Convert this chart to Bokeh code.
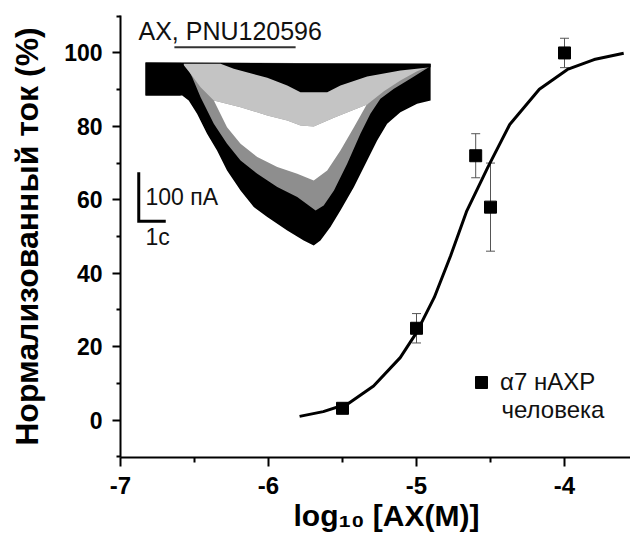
import math
from bokeh.plotting import figure
from bokeh.models import (Range1d, FixedTicker, Whisker, TeeHead, ColumnDataSource,
                          Label, Legend, LegendItem, Title)
from bokeh.core.properties import value
from bokeh.embed import file_html
from bokeh.resources import INLINE

# ---------------- data ----------------
conc_log = [-5.5, -5.0, -4.6, -4.5, -4.0]
current_pct = [3.2, 25.0, 72.0, 58.0, 100.0]
current_err = [1.0, 4.0, 6.0, 12.0, 4.0]

fit_x = [-5.79, -5.63, -5.46, -5.29, -5.11, -5.00, -4.88, -4.77, -4.66, -4.52,
         -4.37, -4.17, -3.98, -3.80, -3.60]
fit_y = [1.0, 2.3, 4.5, 9.3, 17.0, 23.8, 33.4, 44.7, 57.0, 68.7,
         80.5, 90.1, 95.5, 98.2, 99.9]

x_ticks = [-7, -6, -5, -4]
x_minor = [-6.5, -5.5, -4.5]
y_ticks = [0, 20, 40, 60, 80, 100]
y_minor = [-10, 10, 30, 50, 70, 90, 110]

legend_line1 = "α7 нАХР"
legend_line2 = "человека"
x_title = "log₁₀ [АХ(М)]"
y_title = "Нормализованный ток (%)"

# inset current traces: envelopes, time (s) / current (pA)
trace_top_t = [0.0, 10.56]
trace_top_i = [0.0, -2.7]

black_big_t = [0.0, 1.36, 1.60, 1.91, 2.28, 2.65, 3.02, 3.52, 4.01, 4.51, 5.25, 5.86,
               6.23, 6.48, 6.85, 7.22, 7.72, 8.21, 8.58, 8.95, 9.44, 10.06, 10.56]
black_big_i = [-67.3, -67.3, -77.5, -104.7, -145.5, -179.5, -220.3, -261.1, -295.1,
               -315.5, -342.7, -363.1, -373.3, -363.1, -335.9, -301.9, -254.3, -199.9,
               -159.1, -125.1, -101.3, -84.3, -77.5]

gray_start_t = 1.40
gray_t = [1.48, 1.73, 2.04, 2.53, 3.02, 3.52, 4.14, 4.88, 5.62, 6.30, 6.60, 6.98,
          7.47, 7.96, 8.33, 8.70, 9.20, 9.81, 10.49]
gray_i = [-2.7, -29.9, -70.7, -125.1, -165.9, -199.9, -227.1, -254.3, -274.7, -301.9,
          -291.7, -261.1, -206.7, -145.5, -104.7, -74.1, -53.7, -33.3, -9.5]

light_start_t = 1.30
light_t = [1.36, 1.67, 2.04, 2.53, 3.52, 4.51, 5.25, 5.74, 6.23, 6.98, 7.72, 8.21,
           8.83, 9.44, 10.06, 10.49]
light_i = [-1.4, -23.1, -50.3, -77.5, -91.1, -108.1, -118.3, -128.5, -130.6, -112.9,
           -96.6, -85.7, -58.5, -36.7, -17.7, -8.2]

white_t = [2.53, 3.02, 3.52, 4.14, 4.88, 5.62, 6.23, 6.73, 7.22, 7.72, 8.21]
white_i = [-77.5, -131.9, -165.9, -193.1, -213.5, -227.1, -240.7, -220.3, -179.5,
           -131.9, -84.3]

black_small_t = [0.0, 1.30, 1.42, 2.78, 3.27, 4.51, 5.25, 5.74, 6.73, 7.22, 8.21,
                 9.44, 10.56]
black_small_i = [-67.3, -67.3, -2.7, -2.7, -12.9, -31.3, -46.9, -60.5, -60.5, -46.9,
                 -28.6, -16.3, -9.5]

app_on, app_off = 1.07, 5.56          # agonist application bar (s)
app_label = "АХ, PNU120596"
scale_pA = 100
scale_s = 1
scale_pA_label = "100 пА"
scale_s_label = "1с"

# ---------------- layout ----------------
FONT = "Liberation Sans"
W, H = 630, 538
ML, MT, MB = 120, 15, 81
frame_w = W - ML
frame_h = H - MT - MB

p = figure(width=W, height=H, x_range=Range1d(-7, -7 + frame_w / 148.0),
           y_range=Range1d(-10.2, 110.2),
           output_backend="svg", toolbar_location=None,
           min_border_left=ML, min_border_right=0, min_border_top=MT, min_border_bottom=MB)
p.outline_line_color = None
p.xgrid.visible = False
p.ygrid.visible = False
p.background_fill_color = "white"
p.border_fill_color = "white"

# inset coordinate system (px per unit, origin in frame pixels)
px_s = 27.0
px_pA = 0.49
ox = 25.0        # frame px from left for t=0
oy = 47.0        # frame px from top for I=0
p.extra_x_ranges["t"] = Range1d(-ox / px_s, (frame_w - ox) / px_s)
p.extra_y_ranges["i"] = Range1d(-(frame_h - oy) / px_pA, oy / px_pA)
txt_lift = 7.0 / px_pA   # baseline correction for inset texts


def band(ut, ui, lt, li):
    return list(ut) + list(lt[::-1]), list(ui) + list(li[::-1])


kw = dict(x_range_name="t", y_range_name="i", line_color=None)
bx, by = band(trace_top_t, trace_top_i, black_big_t, black_big_i)
p.patch(bx, by, fill_color="black", **kw)
gx, gy = band([gray_start_t, gray_t[-1]], [0.0, -2.5], gray_t, gray_i)
p.patch(gx, gy, fill_color="#8e8e8e", **kw)
wl_t = [t for t in light_t if white_t[0] <= t <= white_t[-1]]
wl_i = [light_i[light_t.index(t)] for t in wl_t]
wx, wy = band(wl_t, wl_i, white_t, white_i)
p.patch(wx, wy, fill_color="white", **kw)
lx, ly = band([light_start_t, light_t[-1]], [0.0, -2.5], light_t, light_i)
p.patch(lx, ly, fill_color="#c4c4c4", **kw)
sx, sy = band(trace_top_t, trace_top_i, black_small_t, black_small_i)
p.patch(sx, sy, fill_color="black", **kw)

# application bar and label
p.line([app_on, app_off], [31.0, 31.0], line_color="#333333", line_width=2,
       x_range_name="t", y_range_name="i")
p.text(x=[-0.26], y=[51.0 + txt_lift], text=[app_label], text_font=value(FONT),
       text_font_size="25px", text_color="#111111", text_baseline="alphabetic",
       text_align="left", x_range_name="t", y_range_name="i")

# scale bars
sb_t, sb_i = -0.25, -323.9
p.line([sb_t, sb_t, sb_t + scale_s], [sb_i + scale_pA, sb_i, sb_i], line_color="black",
       line_width=3, line_join="miter", x_range_name="t", y_range_name="i")
p.text(x=[0.0], y=[-288.4 + txt_lift], text=[scale_pA_label], text_font=value(FONT),
       text_font_size="23px", text_color="#111111", text_baseline="alphabetic",
       x_range_name="t", y_range_name="i")
p.text(x=[0.0], y=[-370.0 + txt_lift], text=[scale_s_label], text_font=value(FONT),
       text_font_size="23px", text_color="#111111", text_baseline="alphabetic",
       x_range_name="t", y_range_name="i")

# fit curve
p.line(fit_x, fit_y, line_color="black", line_width=3)

# error bars + points
src = ColumnDataSource(dict(x=conc_log, y=current_pct,
                            upper=[v + e for v, e in zip(current_pct, current_err)],
                            lower=[v - e for v, e in zip(current_pct, current_err)]))
wh = Whisker(source=src, base="x", upper="upper", lower="lower",
             line_color="#555555", line_width=1, level="underlay",
             upper_head=TeeHead(size=9, line_color="#555555", line_width=1),
             lower_head=TeeHead(size=9, line_color="#555555", line_width=1))
p.add_layout(wh)
pts = p.scatter("x", "y", source=src, marker="square", size=12, color="black")

# legend
leg = Legend(items=[LegendItem(label=legend_line1, renderers=[pts])],
             location=(346, 60), glyph_width=30, glyph_height=30, label_standoff=4,
             padding=0, margin=0, spacing=0, border_line_color=None,
             background_fill_alpha=0, label_text_font=FONT, label_text_font_size="24px",
             label_text_color="#111111")
p.add_layout(leg)
p.add_layout(Label(x=381, y=48, x_units="screen", y_units="screen", text=legend_line2,
                   text_font=FONT, text_font_size="24px", text_color="#111111",
                   text_baseline="alphabetic"))

# axes
for ax in (p.xaxis[0], p.yaxis[0]):
    ax.axis_line_width = 2
    ax.axis_line_color = "black"
    ax.major_tick_line_width = 2
    ax.minor_tick_line_width = 2
    ax.major_tick_in = 0
    ax.minor_tick_in = 0
    ax.major_label_text_font = FONT
    ax.major_label_text_font_style = "bold"
    ax.major_label_text_color = "black"

p.xaxis.ticker = FixedTicker(ticks=x_ticks, minor_ticks=x_minor)
p.yaxis.ticker = FixedTicker(ticks=y_ticks, minor_ticks=y_minor)
p.xaxis.major_label_overrides = {t: str(t) for t in x_ticks}
p.yaxis.major_label_overrides = {t: str(t) for t in y_ticks}
p.xaxis.major_tick_out = 9
p.xaxis.minor_tick_out = 5
p.xaxis.major_label_standoff = 10
p.xaxis.major_label_text_font_size = "24px"
p.yaxis.major_tick_out = 8
p.yaxis.minor_tick_out = 4
p.yaxis.major_label_standoff = 10
p.yaxis.major_label_text_font_size = "23px"

# axis titles
p.yaxis.axis_label = y_title
p.yaxis.axis_label_standoff = 16
p.yaxis.axis_label_text_font = FONT
p.yaxis.axis_label_text_font_size = "32px"
p.yaxis.axis_label_text_font_style = "bold"
p.yaxis.axis_label_text_color = "black"

xt = Title(text=x_title, align="left", offset=173, standoff=0,
           text_font=FONT, text_font_size="30px", text_font_style="bold",
           text_color="black")
p.add_layout(xt, "below")

open("out.html", "w").write(file_html(p, INLINE))
